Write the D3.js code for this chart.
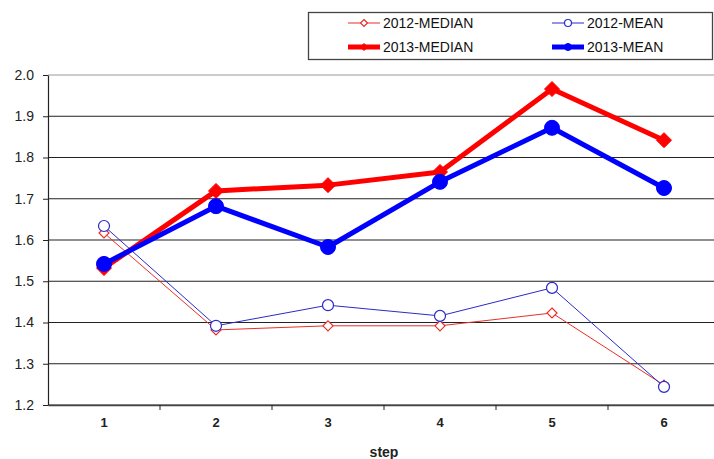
<!DOCTYPE html>
<html><head><meta charset="utf-8">
<script src="https://cdn.jsdelivr.net/npm/d3@7"></script>
<style>body{margin:0;background:#fff}svg{display:block}</style>
</head><body><svg id="c" width="714" height="459"></svg>
<script>
const steps = ["1","2","3","4","5","6"];
const yTicks = [1.2,1.3,1.4,1.5,1.6,1.7,1.8,1.9,2.0];
const median2012 = [1.617,1.382,1.392,1.392,1.423,1.248];
const mean2012   = [1.634,1.392,1.442,1.416,1.484,1.244];
const median2013 = [1.532,1.719,1.733,1.765,1.966,1.842];
const mean2013   = [1.542,1.682,1.583,1.741,1.872,1.726];
const seriesNames = ["2012-MEDIAN","2012-MEAN","2013-MEDIAN","2013-MEAN"];

const svg = d3.select("#c");
const x = d3.scaleBand().domain(steps).range([48,720]);
const y = d3.scaleLinear().domain([1.2,2.0]).range([405,75]);
const font = "Arial, 'Liberation Sans', sans-serif";

// gridlines
svg.append("g").selectAll("line").data(yTicks).join("line")
  .attr("x1",48).attr("x2",714).attr("y1",d=>y(d)).attr("y2",d=>y(d))
  .attr("stroke",d=>d===2.0?"#999":"#222").attr("stroke-width",1.2);

// y axis
const ya = svg.append("g").attr("transform","translate(48,0)")
  .call(d3.axisLeft(y).tickValues(yTicks).tickFormat(d3.format(".1f")).tickSize(5).tickSizeOuter(0));
ya.select(".domain").attr("stroke","#222").attr("stroke-width",1.2);
ya.selectAll(".tick line").attr("stroke","#222");
ya.selectAll("text").attr("font-family",font).attr("font-size",14).attr("fill","#222").attr("x",-14);

// x axis
const xa = svg.append("g").attr("transform","translate(0,405)")
  .call(d3.axisBottom(x).tickSize(0).tickSizeOuter(0));
xa.select(".domain").attr("stroke","#444").attr("stroke-width",1.5);
xa.selectAll("text").attr("font-family",font).attr("font-size",13).attr("font-weight","bold").attr("fill","#222")
  .attr("y",22).attr("dy",0);
svg.append("g").selectAll("line").data(steps.slice(1)).join("line")
  .attr("x1",d=>x(d)).attr("x2",d=>x(d)).attr("y1",405).attr("y2",410)
  .attr("stroke","#222");
svg.append("text").attr("x",384).attr("y",457).attr("text-anchor","middle")
  .attr("font-family",font).attr("font-size",14).attr("font-weight","bold").attr("fill","#222").text("step");

const cx = d => x(d) + x.bandwidth()/2;
const series = [
  {name:seriesNames[0], vals:median2012, color:"#e8302a", w:1, shape:"diamond", size:5, open:true},
  {name:seriesNames[1], vals:mean2012, color:"#2b2bc8", w:1, shape:"circle", size:5.5, open:true},
  {name:seriesNames[2], vals:median2013, color:"#ff0000", w:5, shape:"diamond", size:7.5, open:false},
  {name:seriesNames[3], vals:mean2013, color:"#0000ff", w:5, shape:"circle", size:7.5, open:false},
];
const line = d3.line().x((d,i)=>cx(steps[i])).y(d=>y(d));
function marker(g, s, px, py){
  if(s.shape==="circle"){
    g.append("circle").attr("cx",px).attr("cy",py).attr("r",s.size)
      .attr("fill",s.open?"#fff":s.color).attr("stroke",s.color).attr("stroke-width",s.open?1.2:1);
  } else {
    const r=s.size;
    g.append("path").attr("d",`M${px},${py-r}L${px+r},${py}L${px},${py+r}L${px-r},${py}Z`)
      .attr("fill",s.open?"#fff":s.color).attr("stroke",s.color).attr("stroke-width",s.open?1.2:1);
  }
}
series.forEach(s=>{
  const g = svg.append("g");
  g.append("path").datum(s.vals).attr("d",line).attr("fill","none")
    .attr("stroke",s.color).attr("stroke-width",s.w).attr("stroke-linejoin","round");
  s.vals.forEach((v,i)=>marker(g,s,cx(steps[i]),y(v)));
});

// legend
svg.append("rect").attr("x",308.5).attr("y",12.5).attr("width",404).attr("height",47)
  .attr("fill","#fff").attr("stroke","#444").attr("stroke-width",1.3);
const legPos = [[348,23],[552,23],[348,47],[552,47]];
series.forEach((s,i)=>{
  const [lx,ly]=legPos[i];
  const g = svg.append("g");
  g.append("line").attr("x1",lx).attr("x2",lx+32).attr("y1",ly).attr("y2",ly)
    .attr("stroke",s.color).attr("stroke-width",s.w);
  marker(g,{...s,size:3.5},lx+16,ly);
  g.append("text").attr("x",lx+35).attr("y",ly+5).attr("font-family",font).attr("font-size",14)
    .attr("fill","#111").text(s.name);
});
</script></body></html>
